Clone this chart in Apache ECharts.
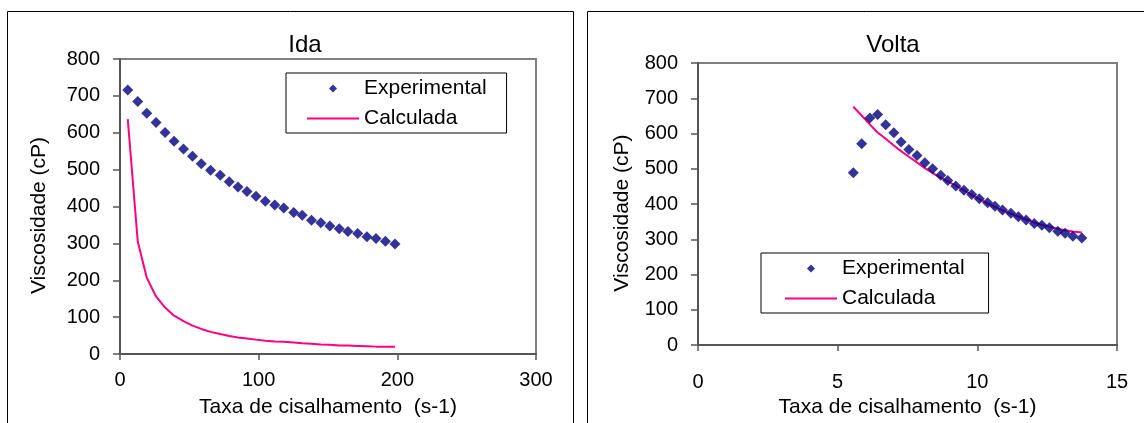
<!DOCTYPE html>
<html>
<head>
<meta charset="utf-8">
<script src="https://cdn.jsdelivr.net/npm/echarts@6/dist/echarts.min.js"></script>
<style>
html,body{margin:0;padding:0;background:#fff;}
#chart{width:1144px;height:423px;}
</style>
</head>
<body>
<div id="chart"></div>
<script>
// ---- Data ----
var idaX = [5.6, 12.8, 19.3, 26.0, 32.5, 39.0, 45.8, 52.3, 58.6, 65.3, 72.3, 78.8, 85.1, 91.6, 98.1,
            104.8, 111.6, 118.1, 125.3, 131.4, 138.1, 144.8, 151.3, 158.1, 164.4, 171.4, 178.1, 184.6, 191.4, 198.3];
var idaExp = [716, 685, 653, 628, 601, 577, 556, 536, 516, 498, 485, 467, 453, 441, 428,
              414, 404, 396, 384, 376, 363, 356, 347, 340, 332, 327, 318, 313, 306, 298];
var idaCalc = [637, 305, 207, 156, 126, 104, 89, 77, 68, 60, 54, 49, 45, 42, 39,
               36, 34, 33, 31, 29, 28, 26, 25, 23, 23, 22, 21, 20, 20, 20];

var voltaX = [5.56, 5.86, 6.15, 6.43, 6.72, 7.01, 7.27, 7.55, 7.84, 8.12, 8.40, 8.69, 8.94, 9.23, 9.52,
              9.80, 10.07, 10.37, 10.63, 10.90, 11.20, 11.47, 11.75, 12.04, 12.31, 12.58, 12.88, 13.14, 13.42, 13.74];
var voltaExp = [489, 571, 644, 654, 625, 602, 576, 555, 538, 517, 500, 482, 467, 451, 439,
                427, 415, 404, 394, 383, 374, 364, 355, 345, 340, 333, 323, 317, 309, 304];
var voltaCalc = [676, 651, 626, 603, 585, 566, 550, 534, 518, 502, 488, 475, 464, 452, 439,
                 426, 414, 402, 392, 382, 373, 364, 356, 348, 341, 336, 330, 326, 322, 319];

var titles = ['Ida', 'Volta'];
var seriesNames = ['Experimental', 'Calculada'];
var xName = 'Taxa de cisalhamento  (s-1)';
var yName = 'Viscosidade (cP)';

function pairs(xs, ys) {
  var out = [];
  for (var i = 0; i < xs.length; i++) out.push([xs[i], ys[i]]);
  return out;
}

var FONT = "'Liberation Sans', Arial, sans-serif";
var NAVY = '#000080';
var PINK = '#FF0080';
var DIAMOND_ICON = 'path://M0,-1L1,0L0,1L-1,0Z';
var LINE_ICON = 'path://M0,0L52,0L52,2L0,2Z';

function xAxisCfg(gridIndex, max, interval, nameGap, labelMargin) {
  return {
    type: 'value', gridIndex: gridIndex, min: 0, max: max, interval: interval,
    name: xName, nameLocation: 'middle', nameGap: nameGap,
    nameTextStyle: { color: '#000', fontSize: 21, fontFamily: FONT },
    axisLine: { show: true, lineStyle: { color: '#555', width: 2 } },
    axisTick: { show: true, length: 6, lineStyle: { color: '#555', width: 1.5 } },
    axisLabel: { color: '#000', fontSize: 20, fontFamily: FONT, margin: labelMargin },
    splitLine: { show: false }
  };
}
function yAxisCfg(gridIndex, nameGap) {
  return {
    type: 'value', gridIndex: gridIndex, min: 0, max: 800, interval: 100,
    name: yName, nameLocation: 'middle', nameGap: nameGap,
    nameTextStyle: { color: '#000', fontSize: 21, fontFamily: FONT, padding: [0, 18, 0, 0] },
    axisLine: { show: true, lineStyle: { color: '#555', width: 2 } },
    axisTick: { show: true, length: 7, lineStyle: { color: '#555', width: 1.5 } },
    axisLabel: { color: '#000', fontSize: 20, fontFamily: FONT, margin: 20 },
    splitLine: { show: false }
  };
}
function legendCfg(left, top, padding) {
  return {
    orient: 'vertical', left: left, top: top, padding: padding,
    itemWidth: 52, itemHeight: 8, itemGap: 9, symbolKeepAspect: true,
    backgroundColor: '#fff', borderColor: '#000', borderWidth: 1,
    textStyle: { color: '#000', fontSize: 21, fontFamily: FONT },
    data: [
      { name: seriesNames[0], icon: DIAMOND_ICON, itemStyle: { color: NAVY } },
      { name: seriesNames[1], icon: LINE_ICON, itemStyle: { color: PINK } }
    ]
  };
}

var chart = echarts.init(document.getElementById('chart'), null, { renderer: 'canvas' });
chart.setOption({
  animation: false,
  backgroundColor: '#fff',
  graphic: [
    { type: 'rect', shape: { x: 7.5, y: 11.5, width: 566, height: 440 }, style: { fill: 'none', stroke: '#000', lineWidth: 1 }, z: -10 },
    { type: 'rect', shape: { x: 587.5, y: 11.5, width: 600, height: 440 }, style: { fill: 'none', stroke: '#000', lineWidth: 1 }, z: -10 }
  ],
  title: [
    { text: titles[0], left: 305, top: 33, textAlign: 'center', padding: 0,
      textStyle: { color: '#000', fontSize: 24, fontWeight: 'normal', fontFamily: FONT } },
    { text: titles[1], left: 893, top: 33, textAlign: 'center', padding: 0,
      textStyle: { color: '#000', fontSize: 24, fontWeight: 'normal', fontFamily: FONT } }
  ],
  legend: [
    legendCfg(286, 73, [5, 20, 4, 21]),
    legendCfg(761, 253, [5, 24, 4, 24])
  ],
  grid: [
    { left: 120, top: 59, width: 416, height: 296, show: true, borderColor: '#808080', borderWidth: 2, backgroundColor: 'transparent' },
    { left: 698, top: 63, width: 419, height: 283, show: true, borderColor: '#808080', borderWidth: 2, backgroundColor: 'transparent' }
  ],
  xAxis: [ xAxisCfg(0, 300, 100, 43, 16), xAxisCfg(1, 15, 5, 51, 27) ],
  yAxis: [ yAxisCfg(0, 70), yAxisCfg(1, 65) ],
  series: [
    { name: seriesNames[1], type: 'line', xAxisIndex: 0, yAxisIndex: 0, data: pairs(idaX, idaCalc),
      symbol: 'none', lineStyle: { color: PINK, width: 2 }, itemStyle: { color: PINK }, z: 2 },
    { name: seriesNames[0], type: 'scatter', xAxisIndex: 0, yAxisIndex: 0, data: pairs(idaX, idaExp),
      symbol: 'diamond', symbolSize: 11, itemStyle: { color: NAVY }, z: 3 },
    { name: seriesNames[1], type: 'line', xAxisIndex: 1, yAxisIndex: 1, data: pairs(voltaX, voltaCalc),
      symbol: 'none', lineStyle: { color: PINK, width: 2 }, itemStyle: { color: PINK }, z: 2 },
    { name: seriesNames[0], type: 'scatter', xAxisIndex: 1, yAxisIndex: 1, data: pairs(voltaX, voltaExp),
      symbol: 'diamond', symbolSize: 11, itemStyle: { color: NAVY }, z: 3 }
  ]
});
</script>
</body>
</html>
